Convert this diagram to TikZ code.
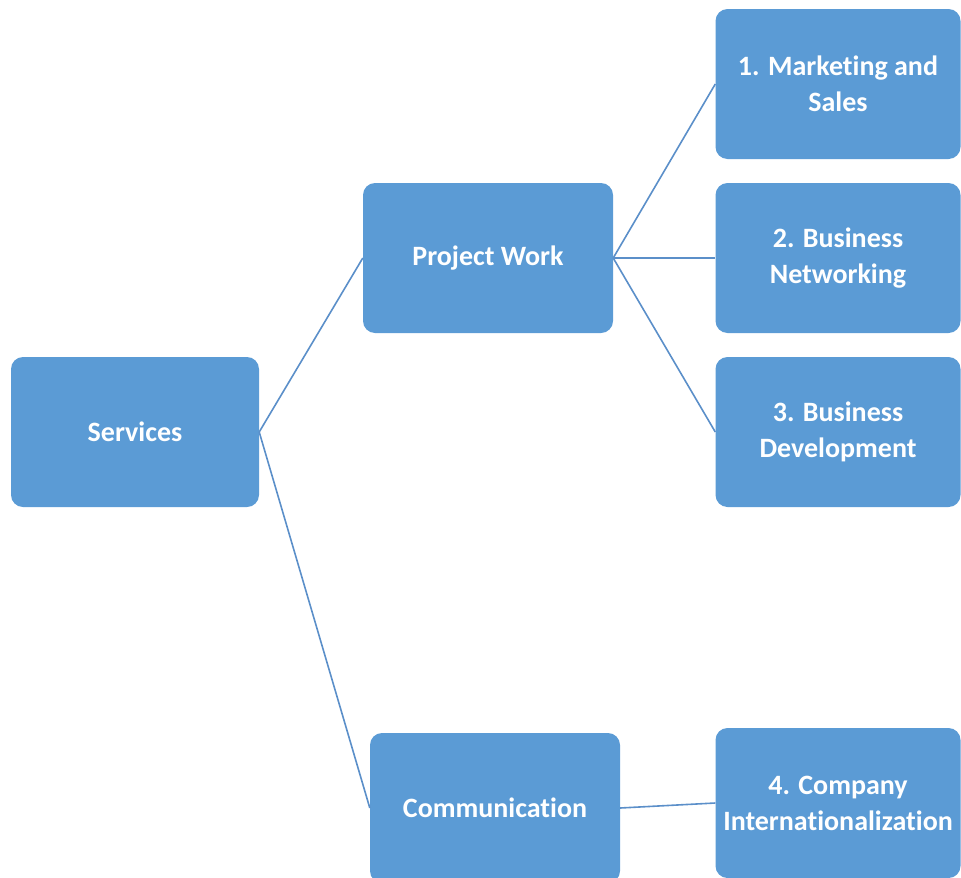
\documentclass[tikz,border=0pt]{standalone}
\usepackage{fontspec}
\setmainfont{Carlito}[Ligatures=NoCommon]
\definecolor{boxblue}{HTML}{5B9BD5}
\definecolor{linkblue}{HTML}{5B8FC9}
\begin{document}
\begin{tikzpicture}[x=1pt,y=-1pt,
  box/.style={rectangle, rounded corners=12pt, fill=boxblue, draw=none,
    text=white, align=center, inner sep=0pt,
    font=\fontsize{28}{36}\selectfont\bfseries},
  link/.style={draw=linkblue, line width=1.6pt}]
\useasboundingbox (0,0) rectangle (961,878);
\clip (0,0) rectangle (961,878);
\node[box, minimum width=248pt, minimum height=150pt] (services) at (135,432) {Services};
\node[box, minimum width=250pt, minimum height=150pt] (project) at (488,258) {Project Work};
\node[box, minimum width=245pt, minimum height=150pt] (market) at (838,84) {1. Marketing and\\Sales};
\node[box, minimum width=245pt, minimum height=150pt] (network) at (838,258) {2. Business\\Networking};
\node[box, minimum width=245pt, minimum height=150pt] (develop) at (838,432) {3. Business\\Development};
\node[box, minimum width=250pt, minimum height=150pt] (comm) at (495,808) {Communication};
\node[box, minimum width=245pt, minimum height=150pt] (company) at (838,803) {4. Company\\Internationalization};
\draw[link] (services.east) -- (project.west);
\draw[link] (services.east) -- (comm.west);
\draw[link] (project.east) -- (market.west);
\draw[link] (project.east) -- (network.west);
\draw[link] (project.east) -- (develop.west);
\draw[link] (comm.east) -- (company.west);
\end{tikzpicture}
\end{document}
